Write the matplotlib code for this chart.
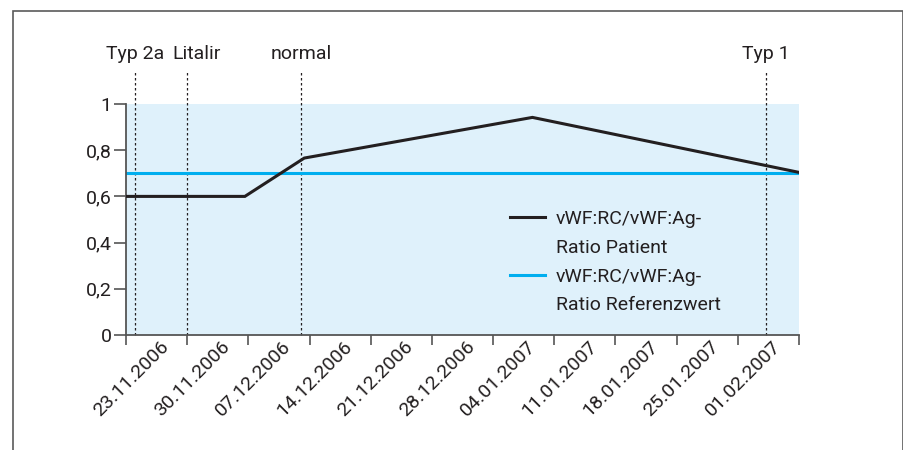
import matplotlib
matplotlib.use("Agg")
import matplotlib.pyplot as plt
import matplotlib.transforms as mtransforms
from matplotlib.lines import Line2D
from matplotlib.patches import Rectangle

plt.rcParams['font.family'] = ['Roboto', 'DejaVu Sans']

# x axis in days; each category spans one week
week_labels = ["23.11.2006", "30.11.2006", "07.12.2006", "14.12.2006",
               "21.12.2006", "28.12.2006", "04.01.2007", "11.01.2007",
               "18.01.2007", "25.01.2007", "01.02.2007"]
patient_days = [0, 13.6, 20.4, 46.5, 77]
patient_ratio = [0.6, 0.6, 0.766, 0.942, 0.704]
ref_days = [0, 77]
ref_ratio = [0.7, 0.7]
event_names = ["Typ 2a", "Litalir", "normal", "Typ 1"]
event_days = [1.0, 7.0, 20.0, 73.2]

text_col = "#231f20"
axis_col = "#555555"
fs = 14

fig = plt.figure(figsize=(9.04, 4.5), dpi=100)
ax = fig.add_axes([126/904, 1 - 335/450, 673/904, 231/450])
ax.set_facecolor("#dff1fb")

ax.plot(patient_days, patient_ratio, color=text_col, lw=2.2, zorder=3,
        solid_joinstyle="miter")
ax.plot(ref_days, ref_ratio, color="#00aeef", lw=2.2, zorder=2)

for name, d in zip(event_names, event_days):
    ax.axvline(d, ymin=0, ymax=1.143, color=text_col, lw=0.9,
               ls=(0, (2, 2)), clip_on=False, zorder=1)
    tx = d + 1.1 if name == "Litalir" else d
    ax.text(tx, 1.215, name, transform=ax.get_xaxis_transform(),
            ha="center", va="center", fontsize=fs, color=text_col)

ax.set_xlim(0, 77)
ax.set_ylim(0, 1)
ax.set_xticks([7 * i for i in range(12)])
ax.set_xticklabels([])
ax.set_xticks([3.5 + 7 * i for i in range(11)], minor=True)
ax.set_xticklabels(week_labels, minor=True, rotation=45, ha="right",
                   va="top", rotation_mode="anchor", fontsize=fs,
                   color=text_col)
ax.tick_params(axis="x", which="minor", length=0, pad=2)
ax.tick_params(axis="x", which="major", length=7, width=1.2,
               color=axis_col, direction="out")
off = mtransforms.ScaledTranslation(3/100, 0, fig.dpi_scale_trans)
for lbl in ax.get_xticklabels(minor=True):
    lbl.set_transform(lbl.get_transform() + off)

ax.set_yticks([0, 0.2, 0.4, 0.6, 0.8, 1])
ax.set_yticklabels(["0", "0,2", "0,4", "0,6", "0,8", "1"], fontsize=fs,
                   color=text_col)
ax.tick_params(axis="y", length=8.5, width=1.2, color=axis_col, pad=2)

for s in ["top", "right"]:
    ax.spines[s].set_visible(False)
for s in ["left", "bottom"]:
    ax.spines[s].set_color(axis_col)
    ax.spines[s].set_linewidth(1.3)

blank = Line2D([], [], color="none")
handles = [Line2D([], [], color=text_col, lw=2.2), blank,
           Line2D([], [], color="#00aeef", lw=2.2), blank]
labels = ["vWF:RC/vWF:Ag-", "Ratio Patient", "vWF:RC/vWF:Ag-",
          "Ratio Referenzwert"]
leg = ax.legend(handles, labels, loc="upper left",
                bbox_to_anchor=(0.571, 0.54), frameon=False, fontsize=fs,
                handlelength=1.8, handletextpad=0.55, labelspacing=0.55,
                borderpad=0, borderaxespad=0)
for t in leg.get_texts():
    t.set_color(text_col)

fig.patches.append(Rectangle((13/904, -0.1), 890/904, 1.1 - 10.5/450,
                             transform=fig.transFigure, fill=False,
                             edgecolor="#5a5a5a", lw=1.2))

fig.savefig("out.png", dpi=100)
